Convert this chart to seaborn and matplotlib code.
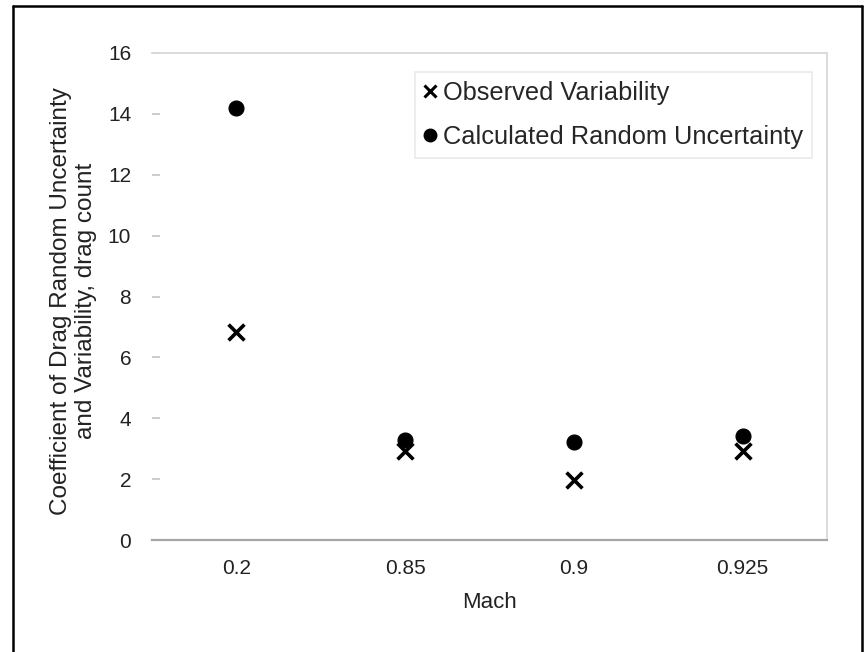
import matplotlib
matplotlib.use("Agg")
import matplotlib.pyplot as plt
import seaborn as sns
import pandas as pd
from matplotlib.lines import Line2D

mach = ["0.2", "0.85", "0.9", "0.925"]
observed = [6.85, 2.92, 1.96, 2.92]
calculated = [14.2, 3.29, 3.22, 3.42]
yticks = [0, 2, 4, 6, 8, 10, 12, 14, 16]

sns.set_theme(style="white")
plt.rcParams["font.family"] = ["Liberation Sans", "DejaVu Sans"]

df_obs = pd.DataFrame({"Mach": mach, "value": observed})
df_cal = pd.DataFrame({"Mach": mach, "value": calculated})

W, H = 865, 652
fig = plt.figure(figsize=(W / 100, H / 100), dpi=100)
L, R, T, B = 152, 827, 53, 540
ax = fig.add_axes([L / W, 1 - B / H, (R - L) / W, (B - T) / H])

sns.scatterplot(data=df_obs, x="Mach", y="value", marker="x", s=130, color="black",
                linewidth=2.6, ax=ax, zorder=3)
sns.scatterplot(data=df_cal, x="Mach", y="value", marker="o", s=115, color="black",
                edgecolor="black", ax=ax, zorder=4)

ax.set_xlim(-0.5, len(mach) - 0.5)
ax.set_ylim(0, 16)
ax.set_yticks(yticks)
ax.set_yticklabels([str(t) for t in yticks])

for side in ["top", "right"]:
    ax.spines[side].set_visible(True)
    ax.spines[side].set_color("#d9d9d9")
    ax.spines[side].set_linewidth(1.3)
ax.spines["left"].set_visible(False)
ax.spines["bottom"].set_color("#a6a6a6")
ax.spines["bottom"].set_linewidth(1.6)

ax.tick_params(axis="y", direction="in", length=6, color="#c8c8c8", width=1.3,
               labelsize=15, labelcolor="#222222", pad=15, left=True)
ax.tick_params(axis="x", length=0, labelsize=15, labelcolor="#222222", pad=14)

ax.set_xlabel("Mach", fontsize=16, color="#222222", labelpad=10)
ax.set_ylabel("Coefficient of Drag Random Uncertainty\nand Variability, drag count",
              fontsize=17.5, color="#222222", linespacing=1.15)
ax.yaxis.set_label_coords((97 - L) / (R - L), 0.49)

handles = [
    Line2D([], [], marker="x", linestyle="none", color="black", markersize=9, markeredgewidth=2.2),
    Line2D([], [], marker="o", linestyle="none", color="black", markersize=9),
]
leg = ax.legend(handles, ["Observed Variability", "Calculated Random Uncertainty"],
                loc="upper right", bbox_to_anchor=((812 - L) / (R - L), (B - 72) / (B - T)),
                fontsize=18.3, frameon=True, fancybox=False, handlelength=0.5,
                handletextpad=0.25, borderpad=0.35, labelspacing=0.8,
                borderaxespad=0, edgecolor="#e4e4e4")
leg.get_frame().set_linewidth(1.2)

# outer border
for (x0, y0, x1, y1) in [(13, 652, 13, 6), (13, 6, 862, 6), (862, 6, 862, 652)]:
    fig.add_artist(Line2D([x0 / W, x1 / W], [1 - y0 / H, 1 - y1 / H],
                          color="black", linewidth=1.8, transform=fig.transFigure))

fig.savefig("out.png", dpi=100)
